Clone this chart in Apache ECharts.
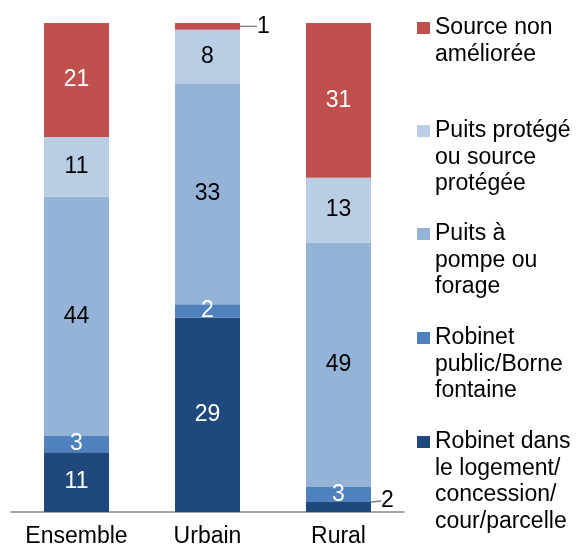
<!DOCTYPE html>
<html>
<head>
<meta charset="utf-8">
<script src="https://cdn.jsdelivr.net/npm/echarts@6/dist/echarts.min.js"></script>
<style>
  html, body { margin: 0; padding: 0; background: #fff; }
  #chart { width: 578px; height: 550px; }
</style>
</head>
<body>
<div id="chart"></div>
<script>
const categories = ['Ensemble', 'Urbain', 'Rural']
const seriesNames = [
  'Robinet dans le logement/concession/cour/parcelle',
  'Robinet public/Borne fontaine',
  'Puits à pompe ou forage',
  'Puits protégé ou source protégée',
  'Source non améliorée'
]
const robinetLogement = [11, 29, 2]
const robinetPublic = [3, 2, 3]
const puitsPompe = [44, 33, 49]
const puitsProtege = [11, 8, 13]
const sourceNonAmelioree = [21, 1, 31]

// legend text, wrapped as in the original
const legendText = {
  'Source non améliorée': 'Source non\naméliorée',
  'Puits protégé ou source protégée': 'Puits protégé\nou source\nprotégée',
  'Puits à pompe ou forage': 'Puits à\npompe ou\nforage',
  'Robinet public/Borne fontaine': 'Robinet\npublic/Borne\nfontaine',
  'Robinet dans le logement/concession/cour/parcelle': 'Robinet dans\nle logement/\nconcession/\ncour/parcelle'
}

const values = [robinetLogement, robinetPublic, puitsPompe, puitsProtege, sourceNonAmelioree]
const colors = ['#1F497D', '#4F81BD', '#95B3D7', '#B9CDE5', '#C0504D']
const labelColors = ['#fff', '#fff', '#000', '#000', '#fff']

// every bar is shown as a share of its own total
const totals = categories.map((c, i) => values.reduce((s, arr) => s + arr[i], 0))

const font = 'Arial, "Liberation Sans", sans-serif'
const fontSize = 23
const lineH = 26.5

// small values drawn outside the bar with a leader line
const outside = { '4-1': [17, 0], '0-2': [10, -6] }

const series = values.map((arr, s) => ({
  name: seriesNames[s],
  type: 'bar',
  stack: 'total',
  barWidth: 65,
  itemStyle: { color: colors[s] },
  label: {
    show: true,
    position: 'inside',
    color: labelColors[s],
    fontSize: fontSize,
    fontFamily: font,
    formatter: p => String(arr[p.dataIndex])
  },
  labelLayout: function (p) {
    const o = outside[p.seriesIndex + '-' + p.dataIndex]
    if (!o) return {}
    return {
      x: p.rect.x + p.rect.width + o[0],
      y: p.rect.y + p.rect.height / 2 + o[1],
      align: 'left',
      verticalAlign: 'middle'
    }
  },
  data: arr.map((v, i) => {
    const item = { value: v / totals[i] * 100 }
    if (outside[s + '-' + i]) {
      item.label = { color: '#000' }
      item.labelLine = { show: true, lineStyle: { color: '#7f7f7f', width: 1.3 } }
    }
    return item
  })
}))

// one legend per entry so the spacing can follow the original;
// blank lines in front keep the marker level with the first line
const legendOrder = [4, 3, 2, 1, 0]
const iconCenters = [28, 131, 234, 338, 442]
const legends = legendOrder.map((s, k) => {
  const n = legendText[seriesNames[s]].split('\n').length
  const h = (2 * n - 1) * lineH
  return {
    left: 417,
    top: iconCenters[k] - h / 2,
    padding: 0,
    orient: 'vertical',
    selectedMode: false,
    icon: 'rect',
    itemWidth: 13,
    itemHeight: 12,
    itemGap: 0,
    data: [seriesNames[s]],
    formatter: name => '\n'.repeat(n - 1) + legendText[name],
    textStyle: {
      color: '#000',
      fontSize: fontSize,
      fontFamily: font,
      lineHeight: lineH
    }
  }
})

const chart = echarts.init(document.getElementById('chart'))
chart.setOption({
  animation: false,
  backgroundColor: '#fff',
  legend: legends,
  grid: { left: 11, right: 174, top: 23, bottom: 38 },
  xAxis: {
    type: 'category',
    data: categories,
    axisLine: { lineStyle: { color: '#888', width: 1.5 } },
    axisTick: { show: false },
    axisLabel: { color: '#000', fontSize: fontSize, fontFamily: font, margin: 13, interval: 0 }
  },
  yAxis: {
    type: 'value',
    min: 0,
    max: 100,
    show: false,
    splitLine: { show: false }
  },
  series: series
})
</script>
</body>
</html>
